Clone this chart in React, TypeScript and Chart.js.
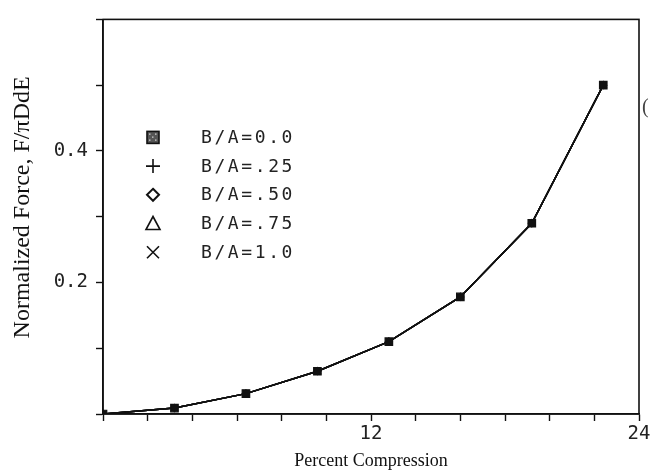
import React, { useEffect, useRef } from "react";
import { Chart, registerables } from "chart.js";

Chart.register(...registerables);

// ---- data ----
const compression = [0, 3.2, 6.4, 9.6, 12.8, 16, 19.2, 22.4];
const force = [0, 0.009, 0.031, 0.065, 0.11, 0.178, 0.29, 0.5];
const seriesLabels = ["B/A=0.0", "B/A=.25", "B/A=.50", "B/A=.75", "B/A=1.0"];
const seriesStyles = ["rect", "cross", "rectRot", "triangle", "crossRot"];
const xLabeledTicks = [12, 24];
const yLabeledTicks = [0.2, 0.4];
const xTitle = "Percent Compression";
const yTitle = "Normalized Force, F/\u03c0DdE";

const MONO = "'DejaVu Sans Mono', 'Liberation Mono', monospace";
const SERIF = "'Liberation Serif', 'DejaVu Serif', serif";

function drawSymbol(ctx: CanvasRenderingContext2D, style: string, x: number, y: number) {
  ctx.save();
  ctx.strokeStyle = "#111";
  ctx.lineWidth = 1.6;
  ctx.beginPath();
  if (style === "rect") {
    ctx.fillStyle = "#555";
    ctx.fillRect(x - 6, y - 6, 12, 12);
    ctx.strokeRect(x - 6, y - 6, 12, 12);
    ctx.fillStyle = "#bbb";
    for (let i = -4; i <= 3; i += 3) {
      for (let j = -4; j <= 3; j += 3) {
        if ((i + j) % 2 === 0) ctx.fillRect(x + i, y + j, 1.5, 1.5);
      }
    }
  } else if (style === "cross") {
    ctx.moveTo(x - 7, y);
    ctx.lineTo(x + 7, y);
    ctx.moveTo(x, y - 7);
    ctx.lineTo(x, y + 7);
    ctx.stroke();
  } else if (style === "rectRot") {
    ctx.moveTo(x, y - 6);
    ctx.lineTo(x + 6, y);
    ctx.lineTo(x, y + 6);
    ctx.lineTo(x - 6, y);
    ctx.closePath();
    ctx.lineWidth = 2;
    ctx.stroke();
  } else if (style === "triangle") {
    ctx.moveTo(x, y - 7);
    ctx.lineTo(x + 7, y + 6);
    ctx.lineTo(x - 7, y + 6);
    ctx.closePath();
    ctx.stroke();
  } else {
    ctx.moveTo(x - 6, y - 6);
    ctx.lineTo(x + 6, y + 6);
    ctx.moveTo(x + 6, y - 6);
    ctx.lineTo(x - 6, y + 6);
    ctx.stroke();
  }
  ctx.restore();
}

const framePlugin = {
  id: "frame",
  afterDraw(chart: any) {
    const { ctx, chartArea } = chart;
    ctx.save();
    ctx.strokeStyle = "#111";
    ctx.lineWidth = 1.6;
    ctx.strokeRect(chartArea.left, chartArea.top, chartArea.right - chartArea.left, chartArea.bottom - chartArea.top);
    // small scan mark to the right of the frame
    ctx.fillStyle = "#444";
    ctx.font = `20px ${SERIF}`;
    ctx.textAlign = "left";
    ctx.textBaseline = "middle";
    ctx.fillText("(", chartArea.right + 3, chartArea.top + 88);
    // vertical axis title, placed a little above the axis centre as in the reference
    ctx.fillStyle = "#111";
    ctx.font = `24px ${SERIF}`;
    ctx.textAlign = "center";
    ctx.translate(23, chartArea.top + 188);
    ctx.rotate(-Math.PI / 2);
    ctx.fillText(yTitle, 0, 0);
    ctx.restore();
  },
};

const legendPlugin = {
  id: "insideLegend",
  afterDraw(chart: any) {
    const { ctx, chartArea } = chart;
    const symX = chartArea.left + 50;
    const textX = chartArea.left + 98;
    const y0 = chartArea.top + 118;
    const step = 28.7;
    ctx.save();
    ctx.fillStyle = "#222";
    ctx.font = `18px ${MONO}`;
    (ctx as any).letterSpacing = "2.6px";
    ctx.textBaseline = "middle";
    ctx.textAlign = "left";
    seriesLabels.forEach((label, i) => {
      const y = y0 + i * step;
      drawSymbol(ctx, seriesStyles[i], symX, y);
      ctx.fillText(label, textX, y + 1);
    });
    ctx.restore();
  },
};

export default function App() {
  const canvasRef = useRef<HTMLCanvasElement | null>(null);

  useEffect(() => {
    document.body.style.margin = "0";
    const canvas = canvasRef.current;
    if (!canvas) return;

    const datasets = seriesLabels
      .map((label, i) => ({
        label,
        data: compression.map((x, k) => ({ x, y: force[k] })),
        borderColor: "#111",
        borderWidth: 1.5,
        backgroundColor: "#111",
        pointStyle: seriesStyles[i] as any,
        pointRadius: i === 0 ? 5.3 : 3.5,
        pointBorderWidth: 1.2,
        pointBorderColor: "#111",
        pointBackgroundColor: "#111",
        showLine: true,
        tension: 0,
        fill: false,
        order: i === 0 ? 0 : 1,
      }))
      .reverse();

    const chart = new Chart(canvas, {
      type: "scatter",
      data: { datasets },
      options: {
        animation: false,
        responsive: false,
        layout: { padding: { top: 10, right: 15, left: 0, bottom: 0 } },
        plugins: {
          legend: { display: false },
          tooltip: { enabled: false },
        },
        scales: {
          x: {
            type: "linear",
            min: 0,
            max: 24,
            afterFit: (scale: any) => {
              scale.height = 60;
            },
            border: { display: true, color: "#111", width: 1.6 },
            grid: {
              display: true,
              drawOnChartArea: false,
              drawTicks: true,
              tickLength: 7,
              tickWidth: 1.4,
              tickColor: "#111",
            },
            ticks: {
              stepSize: 2,
              color: "#222",
              padding: 2,
              maxRotation: 0,
              autoSkip: false,
              font: { family: MONO, size: 19 },
              callback: (v: any) => (xLabeledTicks.includes(Number(v)) ? String(v) : ""),
            },
            title: {
              display: true,
              text: xTitle,
              color: "#111",
              font: { family: SERIF, size: 18 },
              padding: { top: 0, bottom: 2 },
            },
          },
          y: {
            type: "linear",
            min: 0,
            max: 0.6,
            afterFit: (scale: any) => {
              scale.width = 103;
            },
            border: { display: true, color: "#111", width: 1.6 },
            grid: {
              display: true,
              drawOnChartArea: false,
              drawTicks: true,
              tickLength: 7,
              tickWidth: 1.4,
              tickColor: "#111",
            },
            ticks: {
              stepSize: 0.1,
              color: "#222",
              padding: 8,
              autoSkip: false,
              font: { family: MONO, size: 19 },
              callback: (v: any) => {
                const n = Math.round(Number(v) * 10) / 10;
                return yLabeledTicks.includes(n) ? n.toFixed(1) : "";
              },
            },
            title: {
              display: false,
              text: yTitle,
            },
          },
        },
      },
      plugins: [framePlugin, legendPlugin],
    });

    return () => chart.destroy();
  }, []);

  return (
    <div style={{ position: "absolute", left: 0, top: 0, width: 654, height: 474, background: "#fff" }}>
      <canvas ref={canvasRef} width={654} height={474} />
    </div>
  );
}
